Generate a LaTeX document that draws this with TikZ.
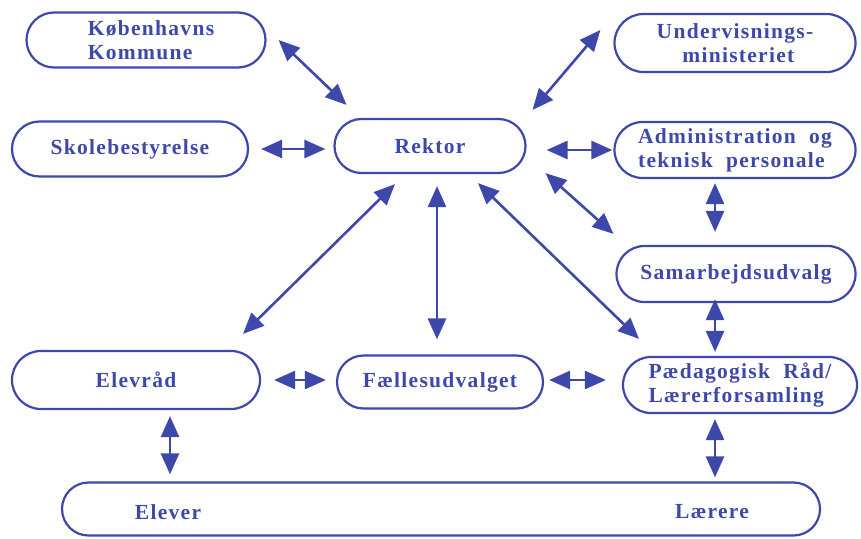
\documentclass[tikz,border=0pt]{standalone}
\usepackage{fontspec}
\setmainfont{Liberation Serif}[LetterSpace=6]
\usetikzlibrary{arrows.meta,calc,shapes.misc}
\definecolor{ink}{RGB}{62,72,170}
\begin{document}
\begin{tikzpicture}[x=1pt,y=-1pt,
  box/.style={rounded rectangle,draw=ink,line width=2.2pt,text=ink,inner sep=2pt,
    font=\fontsize{21.5}{24}\selectfont\bfseries},
  link/.style={draw=ink,line width=2.6pt,
    {Triangle[length=21pt,width=18pt]}-{Triangle[length=21pt,width=18pt]}},
  label/.style={text=ink,font=\fontsize{21.5}{24}\selectfont\bfseries}]
\useasboundingbox (0,0) rectangle (861,538);

\node[box,minimum width=243,minimum height=55,align=left] (kk) at (146,40) {\hspace*{10pt}Københavns\\\hspace*{10pt}Kommune};
\node[box,minimum width=240,minimum height=55] (skole) at (130,149) {Skolebestyrelse};
\node[box,minimum width=195,minimum height=54] (rektor) at (430,146) {Rektor};
\node[box,minimum width=245,minimum height=58,align=center] (under) at (735,43) {Undervisnings-\\\ ministeriet};
\node[box,minimum width=245,minimum height=56,align=left] (admin) at (735,150) {Administration\ \ og\\teknisk\ \ personale};
\node[box,minimum width=243,minimum height=56] (samar) at (736,274) {Samarbejdsudvalg};
\node[box,minimum width=252,minimum height=58] (elevraad) at (136,380) {Elevråd};
\node[box,minimum width=210,minimum height=53] (faelles) at (440,382) {Fællesudvalget};
\node[box,minimum width=238,minimum height=56,align=left] (paed) at (740,385) {Pædagogisk\ \ Råd/\\Lærerforsamling};
\node[box,minimum width=762,minimum height=53] (elever) at (441,509) {};
\node[label] (elevtxt) at (168,512) {Elever};
\node[label] (laerertxt) at (712,512) {Lærere};

\draw[link] ($(kk.east)+(12,0)$) -- ($(rektor.north west)+(-15,-13)$);
\draw[link] ($(skole.east)+(12,0)$) -- ($(skole.east -| rektor.west)+(-8,0)$);
\draw[link] ($(under.west)+(-13,-13)$) -- ($(rektor.north east)+(34,-8)$);
\draw[link] ($(rektor.east)+(20,4)$) -- ($(admin.west)+(-1,0)$);
\draw[link] ($(rektor.south east)+(47,-1)$) -- ($(samar.north west)+(-31,-11)$);
\draw[link] ($(admin.south)+(-20,4)$) -- ($(samar.north)+(-21,-13)$);
\draw[link] ($(samar.south)+(-21,-4)$) -- ($(paed.north)+(-25,-4)$);
\draw[link] ($(rektor.south)+(-35,10)$) -- ($(elevraad.north east)+(12,-16)$);
\draw[link] ($(rektor.south -| faelles.north)+(-3,12)$) -- ($(faelles.north)+(-3,-15)$);
\draw[link] ($(rektor.south)+(48,9)$) -- ($(paed.north west)+(-12,-17)$);
\draw[link] ($(elevraad.east)+(13,0)$) -- ($(faelles.west)+(-10,-2)$);
\draw[link] ($(faelles.east)+(5,-2)$) -- ($(paed.west)+(-16,-5)$);
\draw[link] ($(elevraad.south -| elevtxt)+(2,6)$) -- ($(elevtxt |- elever.north)+(2,-7)$);
\draw[link] ($(paed.south -| laerertxt)+(3,5)$) -- ($(laerertxt |- elever.north)+(3,-4)$);
\end{tikzpicture}
\end{document}
